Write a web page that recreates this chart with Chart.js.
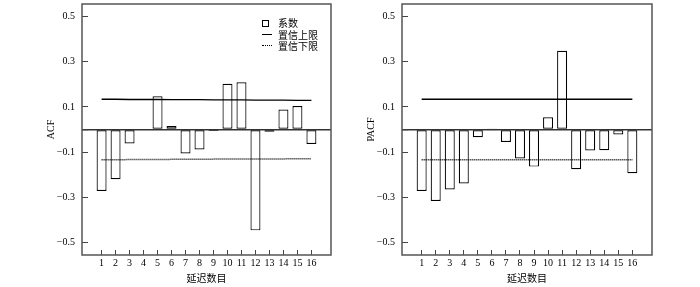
<!DOCTYPE html>
<html>
<head>
<meta charset="utf-8">
<script src="https://cdn.jsdelivr.net/npm/chart.js@4.4.1/dist/chart.umd.min.js"></script>
<style>
html,body{margin:0;padding:0;background:#fff;}
#wrap{position:relative;width:700px;height:287px;overflow:hidden;background:#fff;}
#wrap canvas{position:absolute;top:0;}
#c1{left:0;}
#c2{left:350px;}
.lg{position:absolute;font:10px "Noto Sans CJK SC","Noto Sans CJK JP",sans-serif;color:#000;white-space:nowrap;line-height:12px;height:12px;}
.mk{position:absolute;}
</style>
</head>
<body>
<div id="wrap">
  <canvas id="c1" width="350" height="287"></canvas>
  <canvas id="c2" width="350" height="287"></canvas>
  <div id="legend"></div>
</div>
<script>
// ---- data ----
const lags = [1, 2, 3, 4, 5, 6, 7, 8, 9, 10, 11, 12, 13, 14, 15, 16];
const acfValues  = [-0.272, -0.220, -0.062, 0.000, 0.147, 0.015, -0.106, -0.088, -0.007, 0.202, 0.209, -0.446, -0.010, 0.088, 0.104, -0.064];
const acfUpper   = [0.134, 0.134, 0.133, 0.133, 0.133, 0.132, 0.132, 0.132, 0.131, 0.131, 0.131, 0.130, 0.130, 0.130, 0.129, 0.129];
const acfLower   = [-0.134, -0.134, -0.133, -0.133, -0.133, -0.132, -0.132, -0.132, -0.131, -0.131, -0.131, -0.130, -0.130, -0.130, -0.129, -0.129];
const pacfValues = [-0.272, -0.316, -0.265, -0.239, -0.034, 0.004, -0.055, -0.128, -0.164, 0.054, 0.348, -0.176, -0.093, -0.092, -0.022, -0.193];
const pacfUpper  = [0.134, 0.134, 0.134, 0.134, 0.134, 0.134, 0.134, 0.134, 0.134, 0.134, 0.134, 0.134, 0.134, 0.134, 0.134, 0.134];
const pacfLower  = [-0.134, -0.134, -0.134, -0.134, -0.134, -0.134, -0.134, -0.134, -0.134, -0.134, -0.134, -0.134, -0.134, -0.134, -0.134, -0.134];
const yTickValues = [-0.5, -0.3, -0.1, 0, 0.1, 0.3, 0.5];
const yTickLabels = ['\u22120.5', '\u22120.3', '\u22120.1', '', '0.1', '0.3', '0.5'];
const xTitle = '延迟数目';
const seriesLabels = ['系数', '置信上限', '置信下限'];

const SERIF = '"Liberation Serif", "Times New Roman", serif';
const CJK = '"Noto Sans CJK SC", "Noto Sans CJK JP", sans-serif';

const boxPlugin = {
  id: 'plotBox',
  afterDraw(chart) {
    const {ctx, chartArea: a} = chart;
    ctx.save();
    ctx.strokeStyle = '#555';
    ctx.lineWidth = 1.5;
    ctx.strokeRect(a.left, a.top, a.right - a.left, a.bottom - a.top);
    ctx.restore();
  }
};

function makeChart(canvasId, values, upper, lower, yTitle, padLeft, padRight) {
  const pts = arr => lags.map((x, i) => ({x: x, y: arr[i]}));
  return new Chart(document.getElementById(canvasId), {
    type: 'bar',
    data: {
      datasets: [
        {type: 'line', label: seriesLabels[1], data: pts(upper), borderColor: '#000', borderWidth: 1.4,
         pointRadius: 0, fill: false, tension: 0, order: 0},
        {type: 'line', label: seriesLabels[2], data: pts(lower), borderColor: '#000', borderWidth: 1.5,
         borderDash: [1, 1], pointRadius: 0, fill: false, tension: 0, order: 0},
        {type: 'bar', label: seriesLabels[0], data: pts(values), backgroundColor: '#fff', borderColor: '#000',
         borderWidth: 1.2, borderSkipped: false, barPercentage: 0.714, categoryPercentage: 1, order: 1}
      ]
    },
    options: {
      responsive: false,
      devicePixelRatio: 1,
      animation: false,
      events: [],
      layout: {padding: {left: padLeft, right: padRight, top: 4, bottom: 0}},
      plugins: {legend: {display: false}, tooltip: {enabled: false}},
      scales: {
        x: {
          type: 'linear', min: -0.4, max: 17.4, offset: false,
          afterBuildTicks: s => { s.ticks = lags.map(v => ({value: v})); },
          afterFit: s => { s.height = 32; s.paddingLeft = 0; s.paddingRight = 0; },
          ticks: {autoSkip: false, maxRotation: 0, padding: 7, color: '#000',
                  font: {family: SERIF, size: 10}, callback: v => String(v)},
          grid: {offset: false, drawOnChartArea: false, drawTicks: true, tickLength: -5, tickColor: '#444', tickWidth: 1},
          border: {display: false},
          title: {display: true, text: xTitle, color: '#000', font: {family: CJK, size: 10},
                  padding: {top: 0, bottom: 2.5}}
        },
        y: {
          type: 'linear', min: -0.555, max: 0.555,
          afterBuildTicks: s => { s.ticks = yTickValues.map(v => ({value: v})); },
          afterFit: s => { s.width = 38; s.paddingTop = 0; s.paddingBottom = 0; },
          ticks: {padding: 13, color: '#000', font: {family: SERIF, size: 10},
                  callback: (v, i) => yTickLabels[i]},
          grid: {
            drawOnChartArea: true, drawTicks: true, tickLength: -6,
            color: c => (c.tick && c.tick.value === 0) ? '#333' : 'rgba(0,0,0,0)',
            lineWidth: c => (c.tick && c.tick.value === 0) ? 1.5 : 1,
            tickColor: '#444', tickWidth: 1
          },
          border: {display: false},
          title: {display: true, text: yTitle, color: '#000', font: {family: SERIF, size: 10},
                  padding: {top: 1.5, bottom: 0}}
        }
      }
    },
    plugins: [boxPlugin]
  });
}

makeChart('c1', acfValues, acfUpper, acfLower, 'ACF', 44, 19);
makeChart('c2', pacfValues, pacfUpper, pacfLower, 'PACF', 14, 48);

// ---- HTML legend (left panel) ----
(function () {
  const lg = document.getElementById('legend');
  const rows = [
    {label: seriesLabels[0], kind: 'box', cy: 23.3},
    {label: seriesLabels[1], kind: 'solid', cy: 34.5},
    {label: seriesLabels[2], kind: 'dot', cy: 45.7}
  ];
  rows.forEach(r => {
    const m = document.createElement('div');
    m.className = 'mk';
    if (r.kind === 'box') {
      Object.assign(m.style, {left: '262px', top: (r.cy - 3.5) + 'px', width: '5px', height: '5px',
        border: '1px solid #000', background: '#fff'});
    } else {
      Object.assign(m.style, {left: '262px', top: (r.cy - 0.5) + 'px', width: '10px', height: '0px',
        borderTop: (r.kind === 'solid' ? '1.5px solid #000' : '1px dotted #000')});
    }
    lg.appendChild(m);
    const t = document.createElement('div');
    t.className = 'lg';
    t.textContent = r.label;
    t.style.left = '278px';
    t.style.top = (r.cy - 6) + 'px';
    lg.appendChild(t);
  });
})();
</script>
</body>
</html>
